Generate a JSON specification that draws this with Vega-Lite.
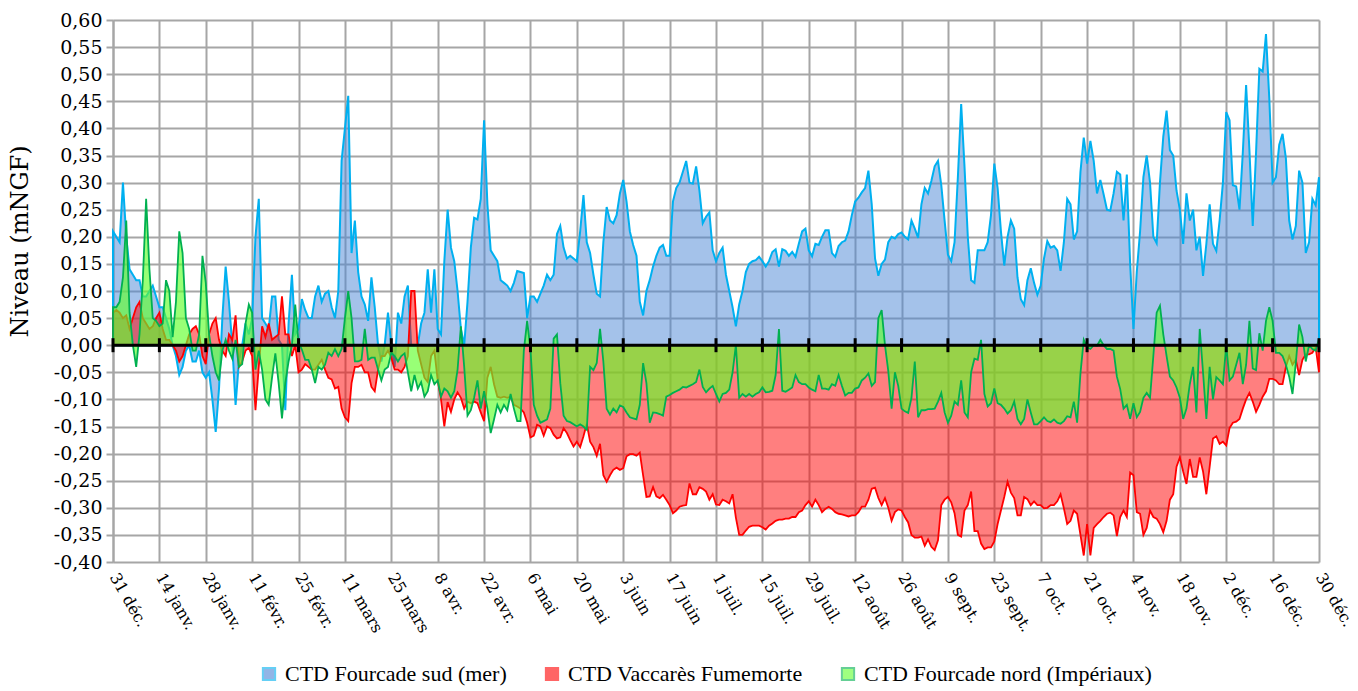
{
  "$schema": "https://vega.github.io/schema/vega-lite/v6.json",
  "width": 1206,
  "height": 542,
  "autosize": {"type": "none"},
  "padding": {"left": 113, "top": 20, "right": 39, "bottom": 129},
  "background": "white",
  "config": {"view": {"stroke": null}, "axis": {"labelFont": "DejaVu Serif", "titleFont": "DejaVu Serif"}},
  "layer": [
    {
      "data": {"values": [
        {"date":"2013-12-31","sud":0.21,"vaccares":0.06,"nord":0.07},
        {"date":"2014-01-01","sud":0.20,"vaccares":0.065,"nord":0.07},
        {"date":"2014-01-02","sud":0.19,"vaccares":0.06,"nord":0.08},
        {"date":"2014-01-03","sud":0.30,"vaccares":0.05,"nord":0.125},
        {"date":"2014-01-04","sud":0.20,"vaccares":0.055,"nord":0.23},
        {"date":"2014-01-05","sud":0.14,"vaccares":0.03,"nord":0.06},
        {"date":"2014-01-06","sud":0.13,"vaccares":0.05,"nord":0.0},
        {"date":"2014-01-07","sud":0.12,"vaccares":0.07,"nord":-0.04},
        {"date":"2014-01-08","sud":0.12,"vaccares":0.08,"nord":0.02},
        {"date":"2014-01-09","sud":0.09,"vaccares":0.05,"nord":0.12},
        {"date":"2014-01-10","sud":0.09,"vaccares":0.04,"nord":0.27},
        {"date":"2014-01-11","sud":0.10,"vaccares":0.03,"nord":0.14},
        {"date":"2014-01-12","sud":0.11,"vaccares":0.035,"nord":0.05},
        {"date":"2014-01-13","sud":0.09,"vaccares":0.05,"nord":0.045},
        {"date":"2014-01-14","sud":0.07,"vaccares":0.06,"nord":0.035},
        {"date":"2014-01-15","sud":0.07,"vaccares":0.03,"nord":0.04},
        {"date":"2014-01-16","sud":0.05,"vaccares":0.01,"nord":0.12},
        {"date":"2014-01-17","sud":0.03,"vaccares":0.01,"nord":0.10},
        {"date":"2014-01-18","sud":0.0,"vaccares":0.0,"nord":0.015},
        {"date":"2014-01-19","sud":-0.02,"vaccares":-0.01,"nord":0.08},
        {"date":"2014-01-20","sud":-0.055,"vaccares":-0.03,"nord":0.21},
        {"date":"2014-01-21","sud":-0.04,"vaccares":-0.02,"nord":0.17},
        {"date":"2014-01-22","sud":-0.01,"vaccares":0.0,"nord":0.05},
        {"date":"2014-01-23","sud":0.0,"vaccares":0.02,"nord":0.03},
        {"date":"2014-01-24","sud":-0.03,"vaccares":0.03,"nord":-0.01},
        {"date":"2014-01-25","sud":-0.03,"vaccares":0.035,"nord":-0.01},
        {"date":"2014-01-26","sud":-0.01,"vaccares":0.02,"nord":0.02},
        {"date":"2014-01-27","sud":-0.05,"vaccares":-0.02,"nord":0.165},
        {"date":"2014-01-28","sud":-0.06,"vaccares":-0.035,"nord":0.115},
        {"date":"2014-01-29","sud":-0.05,"vaccares":0.02,"nord":0.02},
        {"date":"2014-01-30","sud":-0.10,"vaccares":0.04,"nord":-0.02},
        {"date":"2014-01-31","sud":-0.16,"vaccares":0.05,"nord":-0.05},
        {"date":"2014-02-01","sud":-0.08,"vaccares":0.01,"nord":-0.065},
        {"date":"2014-02-02","sud":0.05,"vaccares":-0.01,"nord":-0.01},
        {"date":"2014-02-03","sud":0.145,"vaccares":-0.02,"nord":0.01},
        {"date":"2014-02-04","sud":0.08,"vaccares":0.02,"nord":-0.01},
        {"date":"2014-02-05","sud":0.0,"vaccares":0.01,"nord":-0.025},
        {"date":"2014-02-06","sud":-0.11,"vaccares":0.055,"nord":0.01},
        {"date":"2014-02-07","sud":-0.03,"vaccares":-0.04,"nord":-0.04},
        {"date":"2014-02-08","sud":0.0,"vaccares":-0.03,"nord":-0.035},
        {"date":"2014-02-09","sud":0.04,"vaccares":-0.01,"nord":0.04},
        {"date":"2014-02-10","sud":0.02,"vaccares":-0.005,"nord":0.075},
        {"date":"2014-02-11","sud":0.05,"vaccares":-0.02,"nord":0.06},
        {"date":"2014-02-12","sud":0.20,"vaccares":-0.12,"nord":-0.045},
        {"date":"2014-02-13","sud":0.27,"vaccares":-0.04,"nord":-0.01},
        {"date":"2014-02-14","sud":0.05,"vaccares":0.035,"nord":-0.045},
        {"date":"2014-02-15","sud":0.04,"vaccares":0.015,"nord":-0.10},
        {"date":"2014-02-16","sud":0.03,"vaccares":0.04,"nord":-0.11},
        {"date":"2014-02-17","sud":0.09,"vaccares":0.01,"nord":-0.06},
        {"date":"2014-02-18","sud":0.09,"vaccares":0.015,"nord":-0.015},
        {"date":"2014-02-19","sud":0.01,"vaccares":0.02,"nord":-0.07},
        {"date":"2014-02-20","sud":0.0,"vaccares":0.09,"nord":-0.135},
        {"date":"2014-02-21","sud":-0.12,"vaccares":0.02,"nord":-0.07},
        {"date":"2014-02-22","sud":0.04,"vaccares":0.02,"nord":-0.03},
        {"date":"2014-02-23","sud":0.13,"vaccares":-0.02,"nord":0.0},
        {"date":"2014-02-24","sud":0.02,"vaccares":0.0,"nord":0.075},
        {"date":"2014-02-25","sud":0.03,"vaccares":-0.05,"nord":0.005},
        {"date":"2014-02-26","sud":0.085,"vaccares":-0.045,"nord":-0.008},
        {"date":"2014-02-27","sud":0.065,"vaccares":-0.035,"nord":-0.027},
        {"date":"2014-02-28","sud":0.05,"vaccares":-0.04,"nord":-0.027},
        {"date":"2014-03-01","sud":0.05,"vaccares":-0.045,"nord":-0.045},
        {"date":"2014-03-02","sud":0.09,"vaccares":-0.045,"nord":-0.07},
        {"date":"2014-03-03","sud":0.11,"vaccares":-0.036,"nord":-0.04},
        {"date":"2014-03-04","sud":0.08,"vaccares":-0.027,"nord":-0.045},
        {"date":"2014-03-05","sud":0.095,"vaccares":-0.045,"nord":-0.036},
        {"date":"2014-03-06","sud":0.10,"vaccares":-0.06,"nord":-0.014},
        {"date":"2014-03-07","sud":0.07,"vaccares":-0.063,"nord":-0.02},
        {"date":"2014-03-08","sud":0.05,"vaccares":-0.08,"nord":-0.007},
        {"date":"2014-03-09","sud":0.10,"vaccares":-0.077,"nord":-0.02},
        {"date":"2014-03-10","sud":0.34,"vaccares":-0.117,"nord":-0.007},
        {"date":"2014-03-11","sud":0.40,"vaccares":-0.133,"nord":0.05},
        {"date":"2014-03-12","sud":0.46,"vaccares":-0.14,"nord":0.10},
        {"date":"2014-03-13","sud":0.17,"vaccares":-0.07,"nord":0.05},
        {"date":"2014-03-14","sud":0.23,"vaccares":-0.04,"nord":-0.03},
        {"date":"2014-03-15","sud":0.135,"vaccares":-0.04,"nord":-0.03},
        {"date":"2014-03-16","sud":0.09,"vaccares":-0.036,"nord":-0.027},
        {"date":"2014-03-17","sud":0.075,"vaccares":-0.05,"nord":0.03},
        {"date":"2014-03-18","sud":0.045,"vaccares":-0.05,"nord":-0.027},
        {"date":"2014-03-19","sud":0.125,"vaccares":-0.077,"nord":-0.023},
        {"date":"2014-03-20","sud":0.07,"vaccares":-0.085,"nord":-0.023},
        {"date":"2014-03-21","sud":0.0,"vaccares":-0.045,"nord":-0.045},
        {"date":"2014-03-22","sud":-0.03,"vaccares":-0.02,"nord":-0.065},
        {"date":"2014-03-23","sud":0.0,"vaccares":-0.02,"nord":-0.045},
        {"date":"2014-03-24","sud":0.06,"vaccares":-0.01,"nord":-0.04},
        {"date":"2014-03-25","sud":0.0,"vaccares":-0.023,"nord":-0.014},
        {"date":"2014-03-26","sud":-0.04,"vaccares":-0.045,"nord":-0.02},
        {"date":"2014-03-27","sud":0.06,"vaccares":-0.045,"nord":-0.03},
        {"date":"2014-03-28","sud":0.04,"vaccares":-0.05,"nord":-0.02},
        {"date":"2014-03-29","sud":0.09,"vaccares":-0.04,"nord":-0.015},
        {"date":"2014-03-30","sud":0.11,"vaccares":-0.02,"nord":-0.05},
        {"date":"2014-03-31","sud":0.0,"vaccares":0.10,"nord":-0.085},
        {"date":"2014-04-01","sud":0.0,"vaccares":0.10,"nord":-0.055},
        {"date":"2014-04-02","sud":0.0,"vaccares":-0.01,"nord":-0.08},
        {"date":"2014-04-03","sud":0.04,"vaccares":-0.035,"nord":-0.068},
        {"date":"2014-04-04","sud":0.06,"vaccares":-0.06,"nord":-0.095},
        {"date":"2014-04-05","sud":0.14,"vaccares":-0.068,"nord":-0.085},
        {"date":"2014-04-06","sud":0.06,"vaccares":-0.02,"nord":-0.055},
        {"date":"2014-04-07","sud":0.14,"vaccares":-0.01,"nord":-0.072},
        {"date":"2014-04-08","sud":0.03,"vaccares":-0.065,"nord":-0.065},
        {"date":"2014-04-09","sud":0.02,"vaccares":-0.10,"nord":-0.095},
        {"date":"2014-04-10","sud":0.155,"vaccares":-0.15,"nord":-0.08},
        {"date":"2014-04-11","sud":0.25,"vaccares":-0.105,"nord":-0.085},
        {"date":"2014-04-12","sud":0.18,"vaccares":-0.123,"nord":-0.097},
        {"date":"2014-04-13","sud":0.155,"vaccares":-0.10,"nord":-0.085},
        {"date":"2014-04-14","sud":0.10,"vaccares":-0.087,"nord":-0.045},
        {"date":"2014-04-15","sud":0.03,"vaccares":-0.097,"nord":0.035},
        {"date":"2014-04-16","sud":0.0,"vaccares":-0.117,"nord":-0.04},
        {"date":"2014-04-17","sud":0.08,"vaccares":-0.104,"nord":-0.13},
        {"date":"2014-04-18","sud":0.18,"vaccares":-0.107,"nord":-0.12},
        {"date":"2014-04-19","sud":0.235,"vaccares":-0.104,"nord":-0.097},
        {"date":"2014-04-20","sud":0.232,"vaccares":-0.107,"nord":-0.065},
        {"date":"2014-04-21","sud":0.27,"vaccares":-0.124,"nord":-0.117},
        {"date":"2014-04-22","sud":0.415,"vaccares":-0.14,"nord":-0.085},
        {"date":"2014-04-23","sud":0.26,"vaccares":-0.06,"nord":-0.117},
        {"date":"2014-04-24","sud":0.175,"vaccares":-0.04,"nord":-0.162},
        {"date":"2014-04-25","sud":0.165,"vaccares":-0.072,"nord":-0.137},
        {"date":"2014-04-26","sud":0.155,"vaccares":-0.095,"nord":-0.11},
        {"date":"2014-04-27","sud":0.12,"vaccares":-0.097,"nord":-0.124},
        {"date":"2014-04-28","sud":0.115,"vaccares":-0.095,"nord":-0.11},
        {"date":"2014-04-29","sud":0.11,"vaccares":-0.097,"nord":-0.12},
        {"date":"2014-04-30","sud":0.10,"vaccares":-0.095,"nord":-0.09},
        {"date":"2014-05-01","sud":0.115,"vaccares":-0.11,"nord":-0.117},
        {"date":"2014-05-02","sud":0.137,"vaccares":-0.113,"nord":-0.14},
        {"date":"2014-05-03","sud":0.135,"vaccares":-0.117,"nord":-0.14},
        {"date":"2014-05-04","sud":0.133,"vaccares":-0.124,"nord":-0.01},
        {"date":"2014-05-05","sud":0.05,"vaccares":-0.143,"nord":0.045},
        {"date":"2014-05-06","sud":0.09,"vaccares":-0.17,"nord":-0.007},
        {"date":"2014-05-07","sud":0.09,"vaccares":-0.167,"nord":-0.11},
        {"date":"2014-05-08","sud":0.08,"vaccares":-0.147,"nord":-0.13},
        {"date":"2014-05-09","sud":0.095,"vaccares":-0.15,"nord":-0.143},
        {"date":"2014-05-10","sud":0.11,"vaccares":-0.167,"nord":-0.14},
        {"date":"2014-05-11","sud":0.13,"vaccares":-0.15,"nord":-0.137},
        {"date":"2014-05-12","sud":0.12,"vaccares":-0.153,"nord":-0.117},
        {"date":"2014-05-13","sud":0.13,"vaccares":-0.165,"nord":0.012},
        {"date":"2014-05-14","sud":0.205,"vaccares":-0.172,"nord":0.02},
        {"date":"2014-05-15","sud":0.22,"vaccares":-0.17,"nord":-0.07},
        {"date":"2014-05-16","sud":0.18,"vaccares":-0.153,"nord":-0.13},
        {"date":"2014-05-17","sud":0.16,"vaccares":-0.162,"nord":-0.14},
        {"date":"2014-05-18","sud":0.165,"vaccares":-0.175,"nord":-0.142},
        {"date":"2014-05-19","sud":0.16,"vaccares":-0.187,"nord":-0.146},
        {"date":"2014-05-20","sud":0.155,"vaccares":-0.178,"nord":-0.15},
        {"date":"2014-05-21","sud":0.21,"vaccares":-0.188,"nord":-0.146},
        {"date":"2014-05-22","sud":0.277,"vaccares":-0.168,"nord":-0.15},
        {"date":"2014-05-23","sud":0.19,"vaccares":-0.145,"nord":-0.156},
        {"date":"2014-05-24","sud":0.17,"vaccares":-0.178,"nord":-0.04},
        {"date":"2014-05-25","sud":0.13,"vaccares":-0.188,"nord":-0.046},
        {"date":"2014-05-26","sud":0.095,"vaccares":-0.204,"nord":-0.033},
        {"date":"2014-05-27","sud":0.09,"vaccares":-0.182,"nord":0.03},
        {"date":"2014-05-28","sud":0.19,"vaccares":-0.24,"nord":-0.03},
        {"date":"2014-05-29","sud":0.255,"vaccares":-0.252,"nord":-0.117},
        {"date":"2014-05-30","sud":0.23,"vaccares":-0.24,"nord":-0.128},
        {"date":"2014-05-31","sud":0.225,"vaccares":-0.23,"nord":-0.117},
        {"date":"2014-06-01","sud":0.24,"vaccares":-0.226,"nord":-0.124},
        {"date":"2014-06-02","sud":0.28,"vaccares":-0.23,"nord":-0.111},
        {"date":"2014-06-03","sud":0.305,"vaccares":-0.227,"nord":-0.114},
        {"date":"2014-06-04","sud":0.265,"vaccares":-0.205,"nord":-0.124},
        {"date":"2014-06-05","sud":0.21,"vaccares":-0.201,"nord":-0.133},
        {"date":"2014-06-06","sud":0.185,"vaccares":-0.201,"nord":-0.135},
        {"date":"2014-06-07","sud":0.165,"vaccares":-0.204,"nord":-0.137},
        {"date":"2014-06-08","sud":0.08,"vaccares":-0.198,"nord":-0.11},
        {"date":"2014-06-09","sud":0.055,"vaccares":-0.24,"nord":-0.033},
        {"date":"2014-06-10","sud":0.10,"vaccares":-0.28,"nord":-0.07},
        {"date":"2014-06-11","sud":0.12,"vaccares":-0.279,"nord":-0.143},
        {"date":"2014-06-12","sud":0.145,"vaccares":-0.262,"nord":-0.124},
        {"date":"2014-06-13","sud":0.165,"vaccares":-0.279,"nord":-0.125},
        {"date":"2014-06-14","sud":0.18,"vaccares":-0.282,"nord":-0.127},
        {"date":"2014-06-15","sud":0.185,"vaccares":-0.276,"nord":-0.13},
        {"date":"2014-06-16","sud":0.165,"vaccares":-0.285,"nord":-0.095},
        {"date":"2014-06-17","sud":0.165,"vaccares":-0.295,"nord":-0.092},
        {"date":"2014-06-18","sud":0.265,"vaccares":-0.31,"nord":-0.088},
        {"date":"2014-06-19","sud":0.29,"vaccares":-0.305,"nord":-0.085},
        {"date":"2014-06-20","sud":0.30,"vaccares":-0.298,"nord":-0.082},
        {"date":"2014-06-21","sud":0.32,"vaccares":-0.296,"nord":-0.077},
        {"date":"2014-06-22","sud":0.34,"vaccares":-0.295,"nord":-0.078},
        {"date":"2014-06-23","sud":0.30,"vaccares":-0.255,"nord":-0.075},
        {"date":"2014-06-24","sud":0.298,"vaccares":-0.275,"nord":-0.072},
        {"date":"2014-06-25","sud":0.33,"vaccares":-0.275,"nord":-0.068},
        {"date":"2014-06-26","sud":0.285,"vaccares":-0.262,"nord":-0.045},
        {"date":"2014-06-27","sud":0.225,"vaccares":-0.265,"nord":-0.077},
        {"date":"2014-06-28","sud":0.237,"vaccares":-0.27,"nord":-0.087},
        {"date":"2014-06-29","sud":0.245,"vaccares":-0.285,"nord":-0.08},
        {"date":"2014-06-30","sud":0.175,"vaccares":-0.275,"nord":-0.075},
        {"date":"2014-07-01","sud":0.155,"vaccares":-0.294,"nord":-0.09},
        {"date":"2014-07-02","sud":0.17,"vaccares":-0.295,"nord":-0.104},
        {"date":"2014-07-03","sud":0.18,"vaccares":-0.285,"nord":-0.09},
        {"date":"2014-07-04","sud":0.13,"vaccares":-0.288,"nord":-0.088},
        {"date":"2014-07-05","sud":0.10,"vaccares":-0.292,"nord":-0.082},
        {"date":"2014-07-06","sud":0.07,"vaccares":-0.275,"nord":-0.05},
        {"date":"2014-07-07","sud":0.035,"vaccares":-0.318,"nord":0.0},
        {"date":"2014-07-08","sud":0.075,"vaccares":-0.35,"nord":-0.097},
        {"date":"2014-07-09","sud":0.10,"vaccares":-0.35,"nord":-0.09},
        {"date":"2014-07-10","sud":0.135,"vaccares":-0.342,"nord":-0.095},
        {"date":"2014-07-11","sud":0.15,"vaccares":-0.335,"nord":-0.09},
        {"date":"2014-07-12","sud":0.155,"vaccares":-0.333,"nord":-0.095},
        {"date":"2014-07-13","sud":0.157,"vaccares":-0.333,"nord":-0.09},
        {"date":"2014-07-14","sud":0.163,"vaccares":-0.333,"nord":-0.087},
        {"date":"2014-07-15","sud":0.155,"vaccares":-0.336,"nord":-0.078},
        {"date":"2014-07-16","sud":0.145,"vaccares":-0.34,"nord":-0.087},
        {"date":"2014-07-17","sud":0.155,"vaccares":-0.333,"nord":-0.086},
        {"date":"2014-07-18","sud":0.172,"vaccares":-0.329,"nord":-0.084},
        {"date":"2014-07-19","sud":0.177,"vaccares":-0.324,"nord":-0.055},
        {"date":"2014-07-20","sud":0.145,"vaccares":-0.322,"nord":0.03},
        {"date":"2014-07-21","sud":0.177,"vaccares":-0.322,"nord":-0.084},
        {"date":"2014-07-22","sud":0.174,"vaccares":-0.32,"nord":-0.086},
        {"date":"2014-07-23","sud":0.165,"vaccares":-0.32,"nord":-0.082},
        {"date":"2014-07-24","sud":0.172,"vaccares":-0.317,"nord":-0.078},
        {"date":"2014-07-25","sud":0.163,"vaccares":-0.317,"nord":-0.055},
        {"date":"2014-07-26","sud":0.187,"vaccares":-0.308,"nord":-0.068},
        {"date":"2014-07-27","sud":0.21,"vaccares":-0.305,"nord":-0.072},
        {"date":"2014-07-28","sud":0.215,"vaccares":-0.295,"nord":-0.072},
        {"date":"2014-07-29","sud":0.175,"vaccares":-0.288,"nord":-0.078},
        {"date":"2014-07-30","sud":0.164,"vaccares":-0.298,"nord":-0.082},
        {"date":"2014-07-31","sud":0.187,"vaccares":-0.285,"nord":-0.085},
        {"date":"2014-08-01","sud":0.185,"vaccares":-0.295,"nord":-0.055},
        {"date":"2014-08-02","sud":0.20,"vaccares":-0.308,"nord":-0.08},
        {"date":"2014-08-03","sud":0.212,"vaccares":-0.302,"nord":-0.08},
        {"date":"2014-08-04","sud":0.212,"vaccares":-0.298,"nord":-0.082},
        {"date":"2014-08-05","sud":0.17,"vaccares":-0.302,"nord":-0.072},
        {"date":"2014-08-06","sud":0.163,"vaccares":-0.308,"nord":-0.075},
        {"date":"2014-08-07","sud":0.183,"vaccares":-0.311,"nord":-0.055},
        {"date":"2014-08-08","sud":0.19,"vaccares":-0.312,"nord":-0.075},
        {"date":"2014-08-09","sud":0.193,"vaccares":-0.314,"nord":-0.093},
        {"date":"2014-08-10","sud":0.21,"vaccares":-0.316,"nord":-0.088},
        {"date":"2014-08-11","sud":0.24,"vaccares":-0.314,"nord":-0.088},
        {"date":"2014-08-12","sud":0.265,"vaccares":-0.314,"nord":-0.08},
        {"date":"2014-08-13","sud":0.272,"vaccares":-0.308,"nord":-0.078},
        {"date":"2014-08-14","sud":0.282,"vaccares":-0.298,"nord":-0.065},
        {"date":"2014-08-15","sud":0.29,"vaccares":-0.298,"nord":-0.06},
        {"date":"2014-08-16","sud":0.322,"vaccares":-0.285,"nord":-0.052},
        {"date":"2014-08-17","sud":0.26,"vaccares":-0.265,"nord":-0.075},
        {"date":"2014-08-18","sud":0.16,"vaccares":-0.263,"nord":-0.068},
        {"date":"2014-08-19","sud":0.128,"vaccares":-0.282,"nord":0.05},
        {"date":"2014-08-20","sud":0.15,"vaccares":-0.295,"nord":0.065},
        {"date":"2014-08-21","sud":0.158,"vaccares":-0.282,"nord":0.0},
        {"date":"2014-08-22","sud":0.19,"vaccares":-0.30,"nord":-0.048},
        {"date":"2014-08-23","sud":0.20,"vaccares":-0.324,"nord":-0.117},
        {"date":"2014-08-24","sud":0.197,"vaccares":-0.308,"nord":-0.05},
        {"date":"2014-08-25","sud":0.205,"vaccares":-0.303,"nord":-0.075},
        {"date":"2014-08-26","sud":0.208,"vaccares":-0.305,"nord":-0.117},
        {"date":"2014-08-27","sud":0.20,"vaccares":-0.317,"nord":-0.122},
        {"date":"2014-08-28","sud":0.195,"vaccares":-0.327,"nord":-0.125},
        {"date":"2014-08-29","sud":0.23,"vaccares":-0.35,"nord":-0.097},
        {"date":"2014-08-30","sud":0.215,"vaccares":-0.355,"nord":-0.03},
        {"date":"2014-08-31","sud":0.198,"vaccares":-0.355,"nord":-0.133},
        {"date":"2014-09-01","sud":0.26,"vaccares":-0.353,"nord":-0.12},
        {"date":"2014-09-02","sud":0.29,"vaccares":-0.37,"nord":-0.12},
        {"date":"2014-09-03","sud":0.28,"vaccares":-0.358,"nord":-0.118},
        {"date":"2014-09-04","sud":0.303,"vaccares":-0.372,"nord":-0.118},
        {"date":"2014-09-05","sud":0.33,"vaccares":-0.378,"nord":-0.117},
        {"date":"2014-09-06","sud":0.34,"vaccares":-0.36,"nord":-0.104},
        {"date":"2014-09-07","sud":0.295,"vaccares":-0.295,"nord":-0.088},
        {"date":"2014-09-08","sud":0.23,"vaccares":-0.285,"nord":-0.124},
        {"date":"2014-09-09","sud":0.167,"vaccares":-0.28,"nord":-0.143},
        {"date":"2014-09-10","sud":0.155,"vaccares":-0.29,"nord":-0.13},
        {"date":"2014-09-11","sud":0.19,"vaccares":-0.31,"nord":-0.104},
        {"date":"2014-09-12","sud":0.31,"vaccares":-0.35,"nord":-0.11},
        {"date":"2014-09-13","sud":0.445,"vaccares":-0.353,"nord":-0.065},
        {"date":"2014-09-14","sud":0.33,"vaccares":-0.305,"nord":-0.124},
        {"date":"2014-09-15","sud":0.20,"vaccares":-0.295,"nord":-0.133},
        {"date":"2014-09-16","sud":0.12,"vaccares":-0.27,"nord":-0.05},
        {"date":"2014-09-17","sud":0.115,"vaccares":-0.343,"nord":-0.025},
        {"date":"2014-09-18","sud":0.175,"vaccares":-0.343,"nord":-0.027},
        {"date":"2014-09-19","sud":0.175,"vaccares":-0.366,"nord":0.01},
        {"date":"2014-09-20","sud":0.175,"vaccares":-0.376,"nord":-0.09},
        {"date":"2014-09-21","sud":0.19,"vaccares":-0.373,"nord":-0.113},
        {"date":"2014-09-22","sud":0.24,"vaccares":-0.373,"nord":-0.107},
        {"date":"2014-09-23","sud":0.335,"vaccares":-0.362,"nord":-0.08},
        {"date":"2014-09-24","sud":0.29,"vaccares":-0.33,"nord":-0.107},
        {"date":"2014-09-25","sud":0.21,"vaccares":-0.305,"nord":-0.11},
        {"date":"2014-09-26","sud":0.147,"vaccares":-0.28,"nord":-0.117},
        {"date":"2014-09-27","sud":0.20,"vaccares":-0.252,"nord":-0.126},
        {"date":"2014-09-28","sud":0.23,"vaccares":-0.272,"nord":-0.12},
        {"date":"2014-09-29","sud":0.215,"vaccares":-0.282,"nord":-0.104},
        {"date":"2014-09-30","sud":0.125,"vaccares":-0.314,"nord":-0.136},
        {"date":"2014-10-01","sud":0.085,"vaccares":-0.314,"nord":-0.146},
        {"date":"2014-10-02","sud":0.074,"vaccares":-0.28,"nord":-0.136},
        {"date":"2014-10-03","sud":0.12,"vaccares":-0.284,"nord":-0.10},
        {"date":"2014-10-04","sud":0.142,"vaccares":-0.295,"nord":-0.124},
        {"date":"2014-10-05","sud":0.115,"vaccares":-0.288,"nord":-0.146},
        {"date":"2014-10-06","sud":0.093,"vaccares":-0.295,"nord":-0.146},
        {"date":"2014-10-07","sud":0.11,"vaccares":-0.295,"nord":-0.14},
        {"date":"2014-10-08","sud":0.16,"vaccares":-0.301,"nord":-0.133},
        {"date":"2014-10-09","sud":0.192,"vaccares":-0.30,"nord":-0.14},
        {"date":"2014-10-10","sud":0.18,"vaccares":-0.295,"nord":-0.142},
        {"date":"2014-10-11","sud":0.183,"vaccares":-0.295,"nord":-0.137},
        {"date":"2014-10-12","sud":0.175,"vaccares":-0.288,"nord":-0.143},
        {"date":"2014-10-13","sud":0.137,"vaccares":-0.275,"nord":-0.145},
        {"date":"2014-10-14","sud":0.19,"vaccares":-0.301,"nord":-0.14},
        {"date":"2014-10-15","sud":0.27,"vaccares":-0.33,"nord":-0.131},
        {"date":"2014-10-16","sud":0.26,"vaccares":-0.324,"nord":-0.133},
        {"date":"2014-10-17","sud":0.195,"vaccares":-0.305,"nord":-0.104},
        {"date":"2014-10-18","sud":0.21,"vaccares":-0.311,"nord":-0.143},
        {"date":"2014-10-19","sud":0.32,"vaccares":-0.35,"nord":-0.052},
        {"date":"2014-10-20","sud":0.383,"vaccares":-0.388,"nord":0.01},
        {"date":"2014-10-21","sud":0.335,"vaccares":-0.33,"nord":-0.004},
        {"date":"2014-10-22","sud":0.377,"vaccares":-0.388,"nord":-0.007},
        {"date":"2014-10-23","sud":0.34,"vaccares":-0.337,"nord":0.0},
        {"date":"2014-10-24","sud":0.28,"vaccares":-0.33,"nord":-0.001},
        {"date":"2014-10-25","sud":0.305,"vaccares":-0.324,"nord":0.01},
        {"date":"2014-10-26","sud":0.278,"vaccares":-0.317,"nord":0.0},
        {"date":"2014-10-27","sud":0.25,"vaccares":-0.311,"nord":-0.007},
        {"date":"2014-10-28","sud":0.248,"vaccares":-0.309,"nord":-0.007},
        {"date":"2014-10-29","sud":0.28,"vaccares":-0.314,"nord":-0.01},
        {"date":"2014-10-30","sud":0.32,"vaccares":-0.352,"nord":-0.058},
        {"date":"2014-10-31","sud":0.315,"vaccares":-0.317,"nord":-0.081},
        {"date":"2014-11-01","sud":0.23,"vaccares":-0.305,"nord":-0.117},
        {"date":"2014-11-02","sud":0.315,"vaccares":-0.317,"nord":-0.11},
        {"date":"2014-11-03","sud":0.15,"vaccares":-0.235,"nord":-0.136},
        {"date":"2014-11-04","sud":0.03,"vaccares":-0.24,"nord":-0.107},
        {"date":"2014-11-05","sud":0.135,"vaccares":-0.308,"nord":-0.133},
        {"date":"2014-11-06","sud":0.21,"vaccares":-0.311,"nord":-0.123},
        {"date":"2014-11-07","sud":0.31,"vaccares":-0.35,"nord":-0.097},
        {"date":"2014-11-08","sud":0.35,"vaccares":-0.337,"nord":-0.088},
        {"date":"2014-11-09","sud":0.30,"vaccares":-0.305,"nord":-0.097},
        {"date":"2014-11-10","sud":0.20,"vaccares":-0.317,"nord":-0.02},
        {"date":"2014-11-11","sud":0.188,"vaccares":-0.32,"nord":0.06},
        {"date":"2014-11-12","sud":0.30,"vaccares":-0.33,"nord":0.073},
        {"date":"2014-11-13","sud":0.385,"vaccares":-0.345,"nord":0.02},
        {"date":"2014-11-14","sud":0.433,"vaccares":-0.324,"nord":-0.02},
        {"date":"2014-11-15","sud":0.36,"vaccares":-0.285,"nord":-0.058},
        {"date":"2014-11-16","sud":0.35,"vaccares":-0.275,"nord":-0.065},
        {"date":"2014-11-17","sud":0.285,"vaccares":-0.224,"nord":-0.078},
        {"date":"2014-11-18","sud":0.25,"vaccares":-0.207,"nord":-0.097},
        {"date":"2014-11-19","sud":0.187,"vaccares":-0.233,"nord":-0.136},
        {"date":"2014-11-20","sud":0.28,"vaccares":-0.256,"nord":-0.117},
        {"date":"2014-11-21","sud":0.23,"vaccares":-0.21,"nord":-0.072},
        {"date":"2014-11-22","sud":0.25,"vaccares":-0.243,"nord":-0.04},
        {"date":"2014-11-23","sud":0.175,"vaccares":-0.243,"nord":-0.124},
        {"date":"2014-11-24","sud":0.20,"vaccares":-0.207,"nord":0.03},
        {"date":"2014-11-25","sud":0.128,"vaccares":-0.233,"nord":-0.05},
        {"date":"2014-11-26","sud":0.187,"vaccares":-0.275,"nord":-0.136},
        {"date":"2014-11-27","sud":0.26,"vaccares":-0.224,"nord":-0.04},
        {"date":"2014-11-28","sud":0.187,"vaccares":-0.172,"nord":-0.10},
        {"date":"2014-11-29","sud":0.174,"vaccares":-0.168,"nord":-0.059},
        {"date":"2014-11-30","sud":0.23,"vaccares":-0.182,"nord":-0.065},
        {"date":"2014-12-01","sud":0.30,"vaccares":-0.178,"nord":-0.072},
        {"date":"2014-12-02","sud":0.43,"vaccares":-0.185,"nord":0.0},
        {"date":"2014-12-03","sud":0.415,"vaccares":-0.153,"nord":-0.065},
        {"date":"2014-12-04","sud":0.295,"vaccares":-0.143,"nord":-0.058},
        {"date":"2014-12-05","sud":0.293,"vaccares":-0.141,"nord":-0.036},
        {"date":"2014-12-06","sud":0.25,"vaccares":-0.136,"nord":-0.014},
        {"date":"2014-12-07","sud":0.355,"vaccares":-0.117,"nord":-0.072},
        {"date":"2014-12-08","sud":0.48,"vaccares":-0.10,"nord":-0.036},
        {"date":"2014-12-09","sud":0.36,"vaccares":-0.088,"nord":0.045},
        {"date":"2014-12-10","sud":0.22,"vaccares":-0.104,"nord":-0.043},
        {"date":"2014-12-11","sud":0.355,"vaccares":-0.123,"nord":-0.046},
        {"date":"2014-12-12","sud":0.51,"vaccares":-0.11,"nord":0.022},
        {"date":"2014-12-13","sud":0.505,"vaccares":-0.095,"nord":-0.01},
        {"date":"2014-12-14","sud":0.574,"vaccares":-0.085,"nord":0.045},
        {"date":"2014-12-15","sud":0.455,"vaccares":-0.062,"nord":0.07},
        {"date":"2014-12-16","sud":0.30,"vaccares":-0.062,"nord":0.045},
        {"date":"2014-12-17","sud":0.31,"vaccares":-0.065,"nord":-0.014},
        {"date":"2014-12-18","sud":0.37,"vaccares":-0.072,"nord":-0.014},
        {"date":"2014-12-19","sud":0.39,"vaccares":-0.072,"nord":-0.02},
        {"date":"2014-12-20","sud":0.345,"vaccares":-0.04,"nord":-0.036},
        {"date":"2014-12-21","sud":0.23,"vaccares":-0.02,"nord":-0.058},
        {"date":"2014-12-22","sud":0.195,"vaccares":-0.036,"nord":-0.09},
        {"date":"2014-12-23","sud":0.22,"vaccares":-0.027,"nord":-0.033},
        {"date":"2014-12-24","sud":0.322,"vaccares":-0.055,"nord":0.038},
        {"date":"2014-12-25","sud":0.30,"vaccares":-0.027,"nord":0.015},
        {"date":"2014-12-26","sud":0.17,"vaccares":-0.017,"nord":-0.03},
        {"date":"2014-12-27","sud":0.19,"vaccares":-0.017,"nord":0.0},
        {"date":"2014-12-28","sud":0.27,"vaccares":-0.014,"nord":-0.007},
        {"date":"2014-12-29","sud":0.258,"vaccares":-0.004,"nord":-0.01},
        {"date":"2014-12-30","sud":0.31,"vaccares":-0.05,"nord":0.012}
      ]},
      "transform": [{"fold": ["sud", "vaccares", "nord"], "as": ["serie", "niveau"]}],
      "encoding": {
        "x": {
          "field": "date", "type": "temporal",
          "scale": {"type": "utc", "nice": false, "domain": [{"year": 2013, "month": 12, "date": 31, "utc": true}, {"year": 2014, "month": 12, "date": 30, "utc": true}]},
          "axis": {
            "values": [
              {"year": 2013, "month": 12, "date": 31, "utc": true},
              {"year": 2014, "month": 1, "date": 14, "utc": true},
              {"year": 2014, "month": 1, "date": 28, "utc": true},
              {"year": 2014, "month": 2, "date": 11, "utc": true},
              {"year": 2014, "month": 2, "date": 25, "utc": true},
              {"year": 2014, "month": 3, "date": 11, "utc": true},
              {"year": 2014, "month": 3, "date": 25, "utc": true},
              {"year": 2014, "month": 4, "date": 8, "utc": true},
              {"year": 2014, "month": 4, "date": 22, "utc": true},
              {"year": 2014, "month": 5, "date": 6, "utc": true},
              {"year": 2014, "month": 5, "date": 20, "utc": true},
              {"year": 2014, "month": 6, "date": 3, "utc": true},
              {"year": 2014, "month": 6, "date": 17, "utc": true},
              {"year": 2014, "month": 7, "date": 1, "utc": true},
              {"year": 2014, "month": 7, "date": 15, "utc": true},
              {"year": 2014, "month": 7, "date": 29, "utc": true},
              {"year": 2014, "month": 8, "date": 12, "utc": true},
              {"year": 2014, "month": 8, "date": 26, "utc": true},
              {"year": 2014, "month": 9, "date": 9, "utc": true},
              {"year": 2014, "month": 9, "date": 23, "utc": true},
              {"year": 2014, "month": 10, "date": 7, "utc": true},
              {"year": 2014, "month": 10, "date": 21, "utc": true},
              {"year": 2014, "month": 11, "date": 4, "utc": true},
              {"year": 2014, "month": 11, "date": 18, "utc": true},
              {"year": 2014, "month": 12, "date": 2, "utc": true},
              {"year": 2014, "month": 12, "date": 16, "utc": true},
              {"year": 2014, "month": 12, "date": 30, "utc": true}
            ],
            "labelExpr": "utcdate(datum.value) + ' ' + ['janv.','févr.','mars','avr.','mai','juin','juil.','août','sept.','oct.','nov.','déc.'][utcmonth(datum.value)]",
            "labelAngle": 60, "labelAlign": "left", "labelBaseline": "middle",
            "labelFontSize": 16, "labelColor": "black", "labelPadding": 12,
            "labelDx": -8, "labelDy": 3,
            "labelFlush": false, "labelOverlap": false,
            "grid": true, "gridColor": "#a6a6a6", "gridWidth": 2,
            "domain": false, "ticks": false, "title": null
          }
        },
        "y": {
          "field": "niveau", "type": "quantitative", "stack": null,
          "scale": {"domain": [-0.4, 0.6], "nice": false, "zero": false},
          "axis": {
            "values": [-0.4, -0.35, -0.3, -0.25, -0.2, -0.15, -0.1, -0.05, 0, 0.05, 0.1, 0.15, 0.2, 0.25, 0.3, 0.35, 0.4, 0.45, 0.5, 0.55, 0.6],
            "labelExpr": "replace(replace(format(datum.value, '.2f'), '.', ','), '\u2212', '-')",
            "labelFontSize": 19, "labelColor": "black", "labelPadding": 4, "labelOverlap": false, "labelBound": false,
            "grid": true, "gridColor": "#a6a6a6", "gridWidth": 2,
            "domain": true, "domainColor": "#a6a6a6", "domainWidth": 2,
            "ticks": true, "tickColor": "#a6a6a6", "tickSize": 7, "tickWidth": 2,
            "title": "Niveau  (mNGF)", "titleFontSize": 24, "titleFontWeight": "normal", "titleColor": "black",
            "titleX": -81, "titleY": 221, "titleAngle": -90, "titleAlign": "center", "titleBaseline": "bottom"
          }
        },
        "fill": {
          "field": "serie", "type": "nominal",
          "scale": {"domain": ["sud", "vaccares", "nord"], "range": ["#4a85d6", "#ff0000", "#61ff2c"]},
          "legend": {
            "title": null, "orient": "none", "legendX": 145, "legendY": 643, "direction": "horizontal",
            "labelExpr": "datum.label == 'sud' ? 'CTD Fourcade sud (mer)' : datum.label == 'vaccares' ? 'CTD Vaccarès Fumemorte' : 'CTD Fourcade nord (Impériaux)'",
            "labelFont": "Liberation Serif", "labelFontSize": 22, "labelColor": "black", "labelLimit": 500,
            "symbolType": "square", "symbolSize": 150, "symbolStrokeWidth": 2, "symbolOpacity": 0.6,
            "columnPadding": 34, "labelOffset": 5
          }
        },
        "stroke": {
          "field": "serie", "type": "nominal",
          "scale": {"domain": ["sud", "vaccares", "nord"], "range": ["#00b0f0", "#ff0000", "#00b050"]},
          "legend": {
            "title": null, "orient": "none", "legendX": 145, "legendY": 643, "direction": "horizontal",
            "labelExpr": "datum.label == 'sud' ? 'CTD Fourcade sud (mer)' : datum.label == 'vaccares' ? 'CTD Vaccarès Fumemorte' : 'CTD Fourcade nord (Impériaux)'",
            "labelFont": "Liberation Serif", "labelFontSize": 22, "labelColor": "black", "labelLimit": 500,
            "symbolType": "square", "symbolSize": 150, "symbolStrokeWidth": 2, "symbolOpacity": 0.6,
            "columnPadding": 34, "labelOffset": 5
          }
        }
      },
      "layer": [
        {"transform": [{"filter": "datum.serie === 'sud'"}], "mark": {"type": "area", "fillOpacity": 0.5, "strokeOpacity": 1, "strokeWidth": 2}},
        {"transform": [{"filter": "datum.serie === 'vaccares'"}], "mark": {"type": "area", "fillOpacity": 0.5, "strokeOpacity": 1, "strokeWidth": 1.8}},
        {"transform": [{"filter": "datum.serie === 'nord'"}], "mark": {"type": "area", "fillOpacity": 0.65, "strokeOpacity": 1, "strokeWidth": 1.8}}
      ]
    },
    {
      "data": {"values": [{"niveau": 0}]},
      "mark": {"type": "rule", "color": "black", "strokeWidth": 3},
      "encoding": {
        "y": {
          "field": "niveau", "type": "quantitative",
          "axis": {
            "values": [-0.4, -0.35, -0.3, -0.25, -0.2, -0.15, -0.1, -0.05, 0, 0.05, 0.1, 0.15, 0.2, 0.25, 0.3, 0.35, 0.4, 0.45, 0.5, 0.55, 0.6],
            "labelExpr": "replace(replace(format(datum.value, '.2f'), '.', ','), '\u2212', '-')",
            "labelFontSize": 19, "labelColor": "black", "labelPadding": 4, "labelOverlap": false, "labelBound": false,
            "grid": true, "gridColor": "#a6a6a6", "gridWidth": 2,
            "domain": true, "domainColor": "#a6a6a6", "domainWidth": 2,
            "ticks": true, "tickColor": "#a6a6a6", "tickSize": 7, "tickWidth": 2,
            "title": "Niveau  (mNGF)", "titleFontSize": 24, "titleFontWeight": "normal", "titleColor": "black",
            "titleX": -81, "titleY": 221, "titleAngle": -90, "titleAlign": "center", "titleBaseline": "bottom"
          }
        }
      }
    },
    {
      "data": {"values": [
        {"date": "2013-12-31"}, {"date": "2014-01-14"}, {"date": "2014-01-28"}, {"date": "2014-02-11"},
        {"date": "2014-02-25"}, {"date": "2014-03-11"}, {"date": "2014-03-25"}, {"date": "2014-04-08"},
        {"date": "2014-04-22"}, {"date": "2014-05-06"}, {"date": "2014-05-20"}, {"date": "2014-06-03"},
        {"date": "2014-06-17"}, {"date": "2014-07-01"}, {"date": "2014-07-15"}, {"date": "2014-07-29"},
        {"date": "2014-08-12"}, {"date": "2014-08-26"}, {"date": "2014-09-09"}, {"date": "2014-09-23"},
        {"date": "2014-10-07"}, {"date": "2014-10-21"}, {"date": "2014-11-04"}, {"date": "2014-11-18"},
        {"date": "2014-12-02"}, {"date": "2014-12-16"}, {"date": "2014-12-30"}
      ]},
      "mark": {"type": "tick", "orient": "vertical", "size": 14, "thickness": 3, "color": "black", "opacity": 1},
      "encoding": {
        "x": {"field": "date", "type": "temporal"},
        "y": {
          "datum": 0, "type": "quantitative",
          "axis": {
            "values": [-0.4, -0.35, -0.3, -0.25, -0.2, -0.15, -0.1, -0.05, 0, 0.05, 0.1, 0.15, 0.2, 0.25, 0.3, 0.35, 0.4, 0.45, 0.5, 0.55, 0.6],
            "labelExpr": "replace(replace(format(datum.value, '.2f'), '.', ','), '\u2212', '-')",
            "labelFontSize": 19, "labelColor": "black", "labelPadding": 4, "labelOverlap": false, "labelBound": false,
            "grid": true, "gridColor": "#a6a6a6", "gridWidth": 2,
            "domain": true, "domainColor": "#a6a6a6", "domainWidth": 2,
            "ticks": true, "tickColor": "#a6a6a6", "tickSize": 7, "tickWidth": 2,
            "title": "Niveau  (mNGF)", "titleFontSize": 24, "titleFontWeight": "normal", "titleColor": "black",
            "titleX": -81, "titleY": 221, "titleAngle": -90, "titleAlign": "center", "titleBaseline": "bottom"
          }
        }
      }
    }
  ]
}
